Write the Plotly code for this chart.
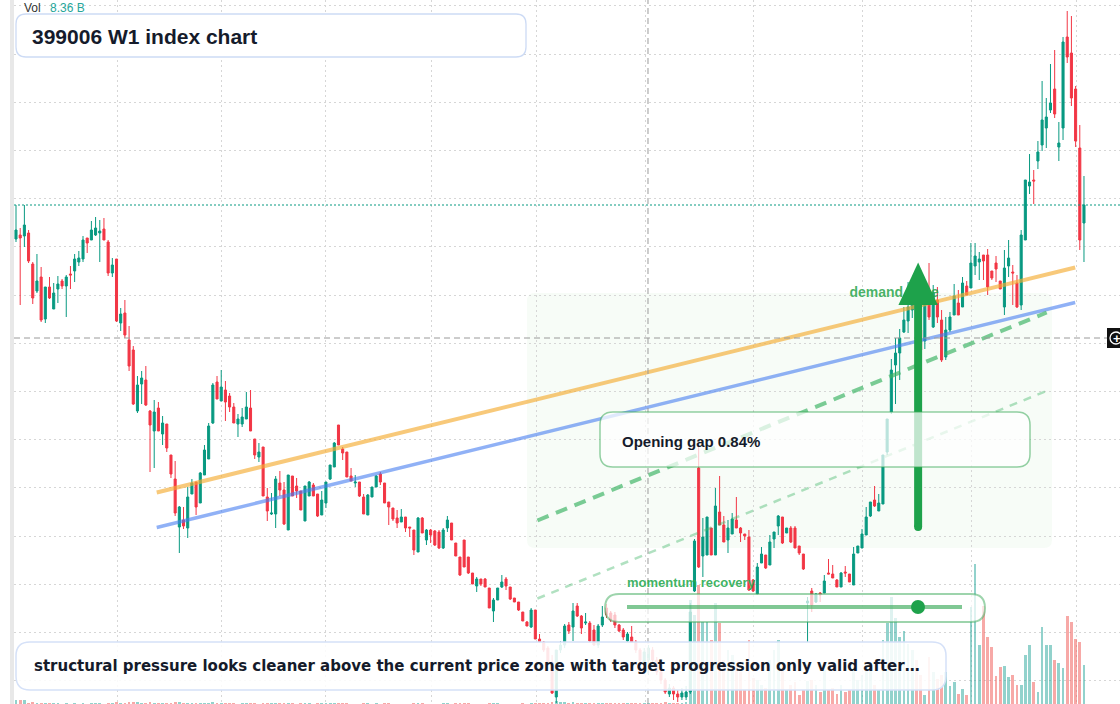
import plotly.graph_objects as go

# ---------------- data (weekly candles) ----------------
open_ = [
    2522, 2530, 2528, 2534, 2472, 2418, 2446, 2362, 2426, 2382,
    2422, 2438, 2428, 2452, 2458, 2476, 2482, 2524, 2520, 2530,
    2534, 2542, 2516, 2454, 2482, 2354, 2374, 2320, 2300, 2178,
    2232, 2240, 2178, 2138, 2184, 2132, 2152, 2090, 2042, 1946,
    1960, 1944, 2012, 2036, 1994, 2050, 2082, 2154, 2236, 2198,
    2220, 2208, 2186, 2152, 2152, 2162, 2184, 2122, 2086, 2106,
    2006, 1972, 1972, 2034, 2020, 1940, 2048, 2028, 2018, 1958,
    2008, 2030, 2012, 1970, 1994, 2042, 2066, 2150, 2102, 2096,
    2048, 2034, 2036, 2006, 1970, 2006, 2026, 2052, 2034, 1996,
    1984, 1964, 1956, 1966, 1946, 1940, 1896, 1964, 1920, 1940,
    1938, 1936, 1904, 1944, 1954, 1914, 1886, 1920, 1886, 1854,
    1828, 1842, 1842, 1824, 1778, 1800, 1826, 1842, 1826, 1804,
    1796, 1776, 1756, 1746, 1780, 1722, 1716, 1704, 1676, 1606,
    1700, 1710, 1750, 1746, 1788, 1768, 1754, 1754, 1740, 1710,
    1750, 1784, 1774, 1770, 1750, 1740, 1718, 1726, 1716, 1700,
    1676, 1680, 1700, 1680, 1656, 1640, 1612, 1624, 1612, 1606,
    1606, 1616, 1818, 2064, 1888, 1890, 1944, 1890, 1976, 1950,
    1920, 1932, 1960, 1944, 1932, 1926, 1840, 1812, 1874, 1890,
    1870, 1922, 1948, 1966, 1934, 1944, 1944, 1908, 1892, 1794,
    1818, 1796, 1814, 1814, 1854, 1852, 1840, 1826, 1856, 1852,
    1830, 1894, 1904, 1930, 1968, 2000, 1978, 1992, 2096, 2176,
    2270, 2294, 2336, 2358, 2380, 2408, 2340, 2318, 2414, 2346,
    2400, 2360, 2286, 2340, 2370, 2394, 2386, 2428, 2424, 2468,
    2476, 2490, 2490, 2458, 2474, 2438, 2386, 2468, 2456, 2434,
    2390, 2520, 2628, 2640, 2678, 2710, 2744, 2780, 2822, 2706,
    2744, 2926, 2894, 2822, 2704, 2554,
]
high = [
    2590, 2544, 2590, 2540, 2476, 2492, 2466, 2426, 2446, 2434,
    2448, 2442, 2450, 2468, 2492, 2498, 2528, 2524, 2558, 2566,
    2560, 2564, 2520, 2484, 2482, 2384, 2400, 2348, 2308, 2248,
    2258, 2268, 2180, 2200, 2196, 2168, 2152, 2090, 2078, 1988,
    1986, 2026, 2042, 2036, 2056, 2110, 2154, 2234, 2248, 2260,
    2238, 2214, 2194, 2172, 2184, 2216, 2220, 2122, 2114, 2106,
    2024, 2014, 2048, 2058, 2036, 2050, 2048, 2044, 2018, 2028,
    2038, 2034, 2012, 2018, 2036, 2070, 2116, 2150, 2106, 2096,
    2064, 2050, 2036, 2012, 2012, 2026, 2050, 2056, 2034, 1996,
    1984, 1980, 1982, 1966, 1946, 1940, 1966, 1966, 1942, 1942,
    1940, 1940, 1944, 1968, 1954, 1914, 1886, 1920, 1886, 1854,
    1846, 1842, 1844, 1824, 1804, 1824, 1850, 1846, 1826, 1804,
    1796, 1776, 1758, 1784, 1780, 1732, 1718, 1708, 1690, 1700,
    1718, 1752, 1756, 1794, 1794, 1770, 1774, 1758, 1750, 1752,
    1788, 1792, 1778, 1776, 1752, 1744, 1736, 1748, 1720, 1704,
    1704, 1710, 1706, 1686, 1660, 1644, 1632, 1628, 1620, 1624,
    1628, 1794, 1922, 2110, 1964, 1966, 1944, 2024, 2048, 1968,
    1960, 1974, 2006, 1946, 1932, 1940, 1842, 1874, 1906, 1890,
    1930, 1936, 1970, 1966, 1944, 1948, 1948, 1908, 1892, 1806,
    1824, 1814, 1816, 1850, 1882, 1870, 1842, 1856, 1868, 1852,
    1906, 1908, 1942, 1986, 1996, 2028, 2012, 2090, 2162, 2282,
    2324, 2342, 2386, 2436, 2430, 2420, 2350, 2426, 2474, 2430,
    2426, 2380, 2366, 2376, 2432, 2420, 2446, 2438, 2514, 2514,
    2496, 2490, 2502, 2458, 2488, 2438, 2500, 2520, 2470, 2450,
    2540, 2640, 2692, 2660, 2718, 2838, 2804, 2872, 2900, 2756,
    2926, 2978, 2968, 2828, 2750, 2648,
]
low = [
    2516, 2390, 2506, 2474, 2392, 2414, 2356, 2354, 2402, 2382,
    2394, 2422, 2366, 2422, 2436, 2468, 2476, 2494, 2520, 2528,
    2476, 2520, 2448, 2446, 2356, 2338, 2324, 2258, 2190, 2174,
    2192, 2188, 2056, 2064, 2138, 2110, 2096, 2044, 1968, 1894,
    1942, 1924, 2012, 1970, 1994, 2050, 2082, 2152, 2202, 2198,
    2158, 2176, 2154, 2126, 2146, 2162, 2138, 2082, 2076, 2008,
    1958, 1970, 1944, 2008, 1950, 1940, 2008, 2004, 1980, 1958,
    2008, 2008, 1966, 1970, 1984, 2040, 2066, 2110, 2080, 2046,
    2038, 2026, 2006, 1972, 1970, 2006, 2026, 2030, 1994, 1950,
    1958, 1944, 1956, 1936, 1926, 1890, 1896, 1934, 1910, 1914,
    1908, 1902, 1902, 1936, 1920, 1888, 1848, 1866, 1852, 1832,
    1816, 1828, 1826, 1784, 1756, 1800, 1824, 1820, 1800, 1796,
    1778, 1758, 1748, 1744, 1722, 1714, 1696, 1672, 1612, 1594,
    1694, 1704, 1732, 1718, 1766, 1732, 1750, 1716, 1708, 1704,
    1746, 1764, 1756, 1744, 1736, 1720, 1716, 1714, 1694, 1674,
    1670, 1650, 1672, 1650, 1632, 1612, 1606, 1600, 1596, 1600,
    1600, 1612, 1816, 1864, 1846, 1890, 1890, 1890, 1950, 1916,
    1894, 1932, 1944, 1916, 1920, 1818, 1816, 1810, 1874, 1862,
    1870, 1904, 1930, 1912, 1934, 1914, 1904, 1890, 1860, 1716,
    1776, 1794, 1796, 1814, 1852, 1844, 1826, 1826, 1846, 1836,
    1830, 1894, 1904, 1930, 1966, 1986, 1978, 1992, 2090, 2172,
    2192, 2240, 2334, 2334, 2364, 2330, 2276, 2302, 2360, 2344,
    2354, 2276, 2280, 2336, 2370, 2370, 2386, 2410, 2424, 2450,
    2440, 2440, 2410, 2440, 2436, 2422, 2370, 2446, 2390, 2384,
    2380, 2520, 2612, 2592, 2662, 2698, 2704, 2774, 2764, 2678,
    2720, 2874, 2788, 2706, 2500, 2476,
]
close = [
    2540, 2524, 2550, 2478, 2404, 2438, 2360, 2426, 2404, 2414,
    2432, 2428, 2446, 2450, 2482, 2484, 2520, 2514, 2540, 2544,
    2538, 2520, 2454, 2470, 2358, 2372, 2330, 2268, 2192, 2230,
    2244, 2190, 2150, 2176, 2138, 2154, 2104, 2052, 1974, 1986,
    1948, 2006, 2034, 1986, 2054, 2100, 2148, 2230, 2202, 2226,
    2196, 2186, 2154, 2162, 2166, 2186, 2138, 2090, 2096, 2008,
    1978, 1974, 2042, 2020, 1952, 2050, 2008, 2018, 1980, 2028,
    2036, 2008, 1968, 2000, 2036, 2070, 2114, 2110, 2094, 2046,
    2038, 2036, 2008, 1972, 2010, 2026, 2048, 2036, 1994, 1986,
    1962, 1954, 1966, 1944, 1944, 1900, 1964, 1934, 1940, 1930,
    1910, 1904, 1940, 1960, 1920, 1888, 1850, 1866, 1854, 1832,
    1842, 1832, 1826, 1784, 1800, 1824, 1836, 1828, 1802, 1796,
    1780, 1758, 1748, 1780, 1722, 1716, 1700, 1676, 1614, 1700,
    1710, 1748, 1738, 1778, 1768, 1744, 1756, 1718, 1710, 1748,
    1766, 1770, 1760, 1750, 1738, 1726, 1732, 1716, 1700, 1680,
    1696, 1704, 1680, 1656, 1640, 1616, 1624, 1612, 1606, 1614,
    1616, 1776, 1918, 1866, 1926, 1966, 1890, 1988, 1950, 1916,
    1944, 1962, 1944, 1934, 1928, 1820, 1818, 1866, 1892, 1864,
    1916, 1936, 1968, 1914, 1944, 1916, 1904, 1894, 1862, 1798,
    1790, 1812, 1810, 1838, 1852, 1844, 1826, 1854, 1854, 1836,
    1892, 1908, 1932, 1966, 1996, 1988, 1994, 2090, 2162, 2260,
    2294, 2324, 2360, 2386, 2408, 2340, 2300, 2400, 2366, 2414,
    2366, 2280, 2340, 2366, 2408, 2370, 2434, 2410, 2474, 2488,
    2482, 2478, 2426, 2444, 2462, 2422, 2464, 2484, 2454, 2386,
    2530, 2640, 2636, 2638, 2696, 2760, 2766, 2794, 2772, 2714,
    2916, 2886, 2804, 2718, 2520, 2590,
]
volume_b = [
    0.9, 0.8, 0.9, 0.3, 0.4, 0.3, 0.3, 0.2, 0.2, 0.2,
    0.2, 0.1, 0.2, 0.1, 0.2, 0.1, 0.2, 0.1, 0.2, 0.2,
    0.2, 0.1, 0.2, 0.2, 0.4, 0.3, 0.3, 0.4, 0.5, 0.4,
    0.3, 0.3, 0.4, 0.3, 0.2, 0.2, 0.3, 0.3, 0.4, 0.4,
    0.2, 0.3, 0.2, 0.2, 0.3, 0.3, 0.3, 0.4, 0.2, 0.3,
    0.2, 0.2, 0.2, 0.1, 0.2, 0.2, 0.2, 0.2, 0.1, 0.3,
    0.3, 0.2, 0.3, 0.2, 0.3, 0.3, 0.2, 0.1, 0.2, 0.2,
    0.2, 0.1, 0.2, 0.2, 0.2, 0.2, 0.3, 0.2, 0.2, 0.2,
    0.1, 0.1, 0.1, 0.2, 0.2, 0.1, 0.2, 0.1, 0.2, 0.2,
    0.1, 0.1, 0.1, 0.1, 0.1, 0.2, 0.3, 0.2, 0.1, 0.1,
    0.1, 0.1, 0.2, 0.2, 0.1, 0.2, 0.2, 0.2, 0.2, 0.1,
    0.1, 0.1, 0.1, 0.2, 0.2, 0.2, 0.1, 0.1, 0.1, 0.1,
    0.1, 0.2, 0.1, 0.2, 0.3, 0.2, 0.3, 0.3, 0.5, 0.6,
    0.4, 0.4, 0.3, 0.4, 0.3, 0.2, 0.2, 0.3, 0.2, 0.3,
    0.3, 0.2, 0.2, 0.2, 0.2, 0.2, 0.2, 0.2, 0.2, 0.3,
    0.2, 0.3, 0.2, 0.3, 0.3, 0.4, 0.3, 0.3, 0.3, 0.3,
    0.4, 22.3, 19.1, 25.5, 17.6, 17.6, 13.7, 21.7, 17.4, 9.4,
    11.6, 10.5, 8.4, 6.9, 3.0, 13.7, 5.6, 5.1, 4.1, 3.4,
    9.4, 11.6, 13.7, 7.3, 3.0, 4.1, 4.7, 1.9, 3.0, 5.0,
    5.1, 4.1, 2.6, 7.3, 3.0, 3.4, 2.1, 4.1, 2.6, 3.0,
    7.3, 5.1, 6.2, 8.4, 7.7, 4.1, 3.0, 13.7, 17.4, 22.9,
    18.4, 14.4, 15.7, 12.9, 11.6, 9.4, 6.2, 1.9, 10.1, 6.9,
    5.4, 6.2, 6.9, 3.9, 4.7, 2.1, 3.2, 1.9, 20.8, 30.0,
    12.6, 21.0, 14.4, 12.2, 6.0, 7.9, 8.1, 5.8, 6.2, 4.1,
    4.1, 10.5, 12.6, 4.7, 2.6, 16.5, 12.6, 12.6, 9.4, 8.8,
    7.7, 18.9, 17.6, 13.9, 13.3, 8.36,
]
week_index = list(range(len(close)))

# half-year time grid positions (in week index units)
time_grid = [24.2, 49.0, 74.0, 99.3, 124.2, 150.2, 176.0, 202.2, 228.2, 253.3]

# drawn study lines (week index, price)
resist_x, resist_y = [33.6, 252.9], [2015, 2465]
support_x, support_y = [33.6, 252.9], [1945, 2395]
channel_hi_x, channel_hi_y = [124.5, 246.1], [1959, 2375]
channel_lo_x, channel_lo_y = [124.5, 246.9], [1803, 2221]
arrow_x, arrow_tail, arrow_base, arrow_tip, arrow_half = 215.4, 1946, 2390, 2475, 4.7
demand_label_x, demand_label_y = 199.0, 2414
crosshair_x, crosshair_y = 150.9, 2324

TITLE = "399006 W1 index chart"
NOTE = "structural pressure looks cleaner above the current price zone with target progression only valid after…"
GAP_TEXT = "Opening gap 0.84%"

UP, DN = "#089981", "#f23645"
W, H, ML = 1120, 704, 14


def pp(px, py):
    return (px - ML) / (W - ML), 1 - py / H


def rr(x0, y0, x1, y1, r):
    def P(x, y):
        a, b = pp(x, y)
        return f"{a:.5f},{b:.5f}"
    return (f"M {P(x0 + r, y0)} L {P(x1 - r, y0)} Q {P(x1, y0)} {P(x1, y0 + r)} "
            f"L {P(x1, y1 - r)} Q {P(x1, y1)} {P(x1 - r, y1)} L {P(x0 + r, y1)} "
            f"Q {P(x0, y1)} {P(x0, y1 - r)} L {P(x0, y0 + r)} Q {P(x0, y0)} {P(x0 + r, y0)} Z")


vol_colors = ["rgba(38,166,154,0.5)" if c >= o else "rgba(239,83,80,0.5)"
              for o, c in zip(open_, close)]

fig = go.Figure()
fig.add_trace(go.Bar(x=week_index, y=volume_b, marker_color=vol_colors, marker_line_width=0,
                     width=0.66, yaxis="y", hoverinfo="skip", showlegend=False))
fig.add_trace(go.Candlestick(
    x=week_index, open=open_, high=high, low=low, close=close, yaxis="y2",
    increasing=dict(line=dict(color=UP, width=1), fillcolor=UP),
    decreasing=dict(line=dict(color=DN, width=1), fillcolor=DN),
    whiskerwidth=0, showlegend=False, hoverinfo="skip"))
fig.add_trace(go.Scatter(x=resist_x, y=resist_y, yaxis="y2", mode="lines",
                         line=dict(color="rgba(245,172,50,0.65)", width=4), hoverinfo="skip", showlegend=False))
fig.add_trace(go.Scatter(x=support_x, y=support_y, yaxis="y2", mode="lines",
                         line=dict(color="rgba(70,125,240,0.6)", width=3.5), hoverinfo="skip", showlegend=False))
fig.add_trace(go.Scatter(x=channel_hi_x, y=channel_hi_y, yaxis="y2", mode="lines",
                         line=dict(color="rgba(60,180,100,0.68)", width=4, dash="12px,8px"),
                         hoverinfo="skip", showlegend=False))
fig.add_trace(go.Scatter(x=channel_lo_x, y=channel_lo_y, yaxis="y2", mode="lines",
                         line=dict(color="rgba(60,180,100,0.4)", width=2.5, dash="8px,7px"),
                         hoverinfo="skip", showlegend=False))
fig.add_trace(go.Scatter(x=[demand_label_x], y=[demand_label_y], yaxis="y2", mode="text",
                         text=["demand zone"], textposition="middle right",
                         textfont=dict(color="rgba(40,165,75,0.85)", size=14,
                                       family="Liberation Sans, Arial", weight="bold"),
                         hoverinfo="skip", showlegend=False))

shapes = []
# left strip
shapes.append(dict(type="rect", xref="paper", yref="paper", x0=pp(10, 0)[0], x1=0, y0=0, y1=1,
                   fillcolor="#e8e8e8", line_width=0, layer="below"))
# light green zone
shapes.append(dict(type="path", xref="paper", yref="paper", path=rr(527, 293, 1052, 548, 8),
                   fillcolor="rgba(76,175,80,0.045)", line_width=0, layer="below"))
# last price dotted line
shapes.append(dict(type="line", xref="paper", yref="y2", x0=0, x1=1, y0=close[-1], y1=close[-1],
                   line=dict(color=UP, width=1, dash="2px,2px"), layer="above"))
# crosshair
shapes.append(dict(type="line", xref="paper", yref="y2", x0=0, x1=1, y0=crosshair_y, y1=crosshair_y,
                   line=dict(color="#9a9a9a", width=1, dash="6px,4px"), layer="above"))
shapes.append(dict(type="line", xref="x", yref="paper", x0=crosshair_x, x1=crosshair_x, y0=0, y1=1,
                   line=dict(color="#9a9a9a", width=1, dash="6px,4px"), layer="above"))
# arrow
ARW = "#1ea24b"
shapes.append(dict(type="line", xref="x", yref="y2", x0=arrow_x, x1=arrow_x, y0=arrow_tail, y1=arrow_base + 4,
                   line=dict(color=ARW, width=8), layer="above"))
shapes.append(dict(type="circle", xref="x", yref="y2", x0=arrow_x - 0.95, x1=arrow_x + 0.95,
                   y0=arrow_tail - 8, y1=arrow_tail + 8, fillcolor=ARW, line_width=0, layer="above"))
shapes.append(dict(type="path", xref="x", yref="y2",
                   path=f"M {arrow_x - arrow_half},{arrow_base} L {arrow_x},{arrow_tip} L {arrow_x + arrow_half},{arrow_base} Z",
                   fillcolor=ARW, line_width=0, layer="above"))
# opening gap box
shapes.append(dict(type="path", xref="paper", yref="paper", path=rr(600, 412, 1030, 467, 13),
                   fillcolor="rgba(255,255,255,0.72)", line=dict(color="rgba(60,170,90,0.55)", width=1.5),
                   layer="above"))
# momentum pill
shapes.append(dict(type="path", xref="paper", yref="paper", path=rr(605, 594, 985, 622, 14),
                   fillcolor="rgba(255,255,255,0.7)", line=dict(color="rgba(60,170,90,0.5)", width=2),
                   layer="above"))
a0, b0 = pp(627, 607)
a1, _ = pp(962, 607)
shapes.append(dict(type="line", xref="paper", yref="paper", x0=a0, x1=a1, y0=b0, y1=b0,
                   line=dict(color="rgba(60,170,90,0.65)", width=4), layer="above"))
c0, d0 = pp(911, 600)
c1, d1 = pp(925, 614)
shapes.append(dict(type="circle", xref="paper", yref="paper", x0=c0, x1=c1, y0=d1, y1=d0,
                   fillcolor=ARW, line_width=0, layer="above"))
# title box & note box
shapes.append(dict(type="path", xref="paper", yref="paper", path=rr(16, 14, 526, 57, 10),
                   fillcolor="white", line=dict(color="#cddbf5", width=1.3), layer="above"))
shapes.append(dict(type="path", xref="paper", yref="paper", path=rr(16, 642, 946, 690, 14),
                   fillcolor="rgba(255,255,255,0.88)", line=dict(color="#d5e1f8", width=1.5), layer="above"))
# crosshair price tag
e0, f0 = pp(1107, 328)
e1, f1 = pp(1124, 348)
shapes.append(dict(type="rect", xref="paper", yref="paper", x0=e0, x1=e1, y0=f1, y1=f0,
                   fillcolor="#111111", line_width=0, layer="above"))
g0, h0 = pp(1110, 332)
g1, h1 = pp(1122, 344)
shapes.append(dict(type="circle", xref="paper", yref="paper", x0=g0, x1=g1, y0=h1, y1=h0,
                   line=dict(color="white", width=1.3), layer="above"))

FONT = "Liberation Sans, Arial, sans-serif"
annotations = []


def note(px, py, text, size, color, weight="normal", family=FONT):
    x, y = pp(px, py)
    annotations.append(dict(x=x, y=y, xref="paper", yref="paper", xanchor="left", yanchor="middle",
                            text=text, showarrow=False,
                            font=dict(size=size, color=color, family=family, weight=weight)))


note(22, 8, "Vol", 12, "#333333")
note(48, 8, f"{volume_b[-1]:.2f} B", 12, "#26a69a")
note(30, 36, TITLE, 21, "#151b2b", "bold")
note(620, 441, GAP_TEXT, 15, "#151b2b", "bold")
note(625, 582, "momentum recovery", 13, "rgba(40,170,80,0.9)", "bold")
note(32, 666, NOTE, 15, "#151b2b", "bold", "DejaVu Sans, Verdana, sans-serif")
note(1111, 338, "+", 13, "white", "bold")

GRID = "#d6d6d6"
fig.update_layout(
    width=W, height=H, margin=dict(l=ML, r=0, t=0, b=0, pad=0),
    paper_bgcolor="white", plot_bgcolor="white",
    boxgap=0.3, boxgroupgap=0.3,
    xaxis=dict(range=[-0.478, 263.6], tickvals=time_grid, showticklabels=False, ticks="",
               showgrid=True, gridcolor=GRID, griddash="2px,3px", gridwidth=1,
               zeroline=False, showline=False, rangeslider=dict(visible=False), fixedrange=True),
    yaxis=dict(range=[0, 150.9], visible=False, showgrid=False, fixedrange=True),
    yaxis2=dict(range=[1592, 3000], overlaying="y", side="right", tick0=2313.4, dtick=96.4,
                showticklabels=False, ticks="", showgrid=True, gridcolor=GRID, griddash="2px,3px",
                gridwidth=1, zeroline=False, showline=False, fixedrange=True),
    shapes=shapes, annotations=annotations, showlegend=False, bargap=0,
)

fig.write_html("out.html", config={"displayModeBar": False})
